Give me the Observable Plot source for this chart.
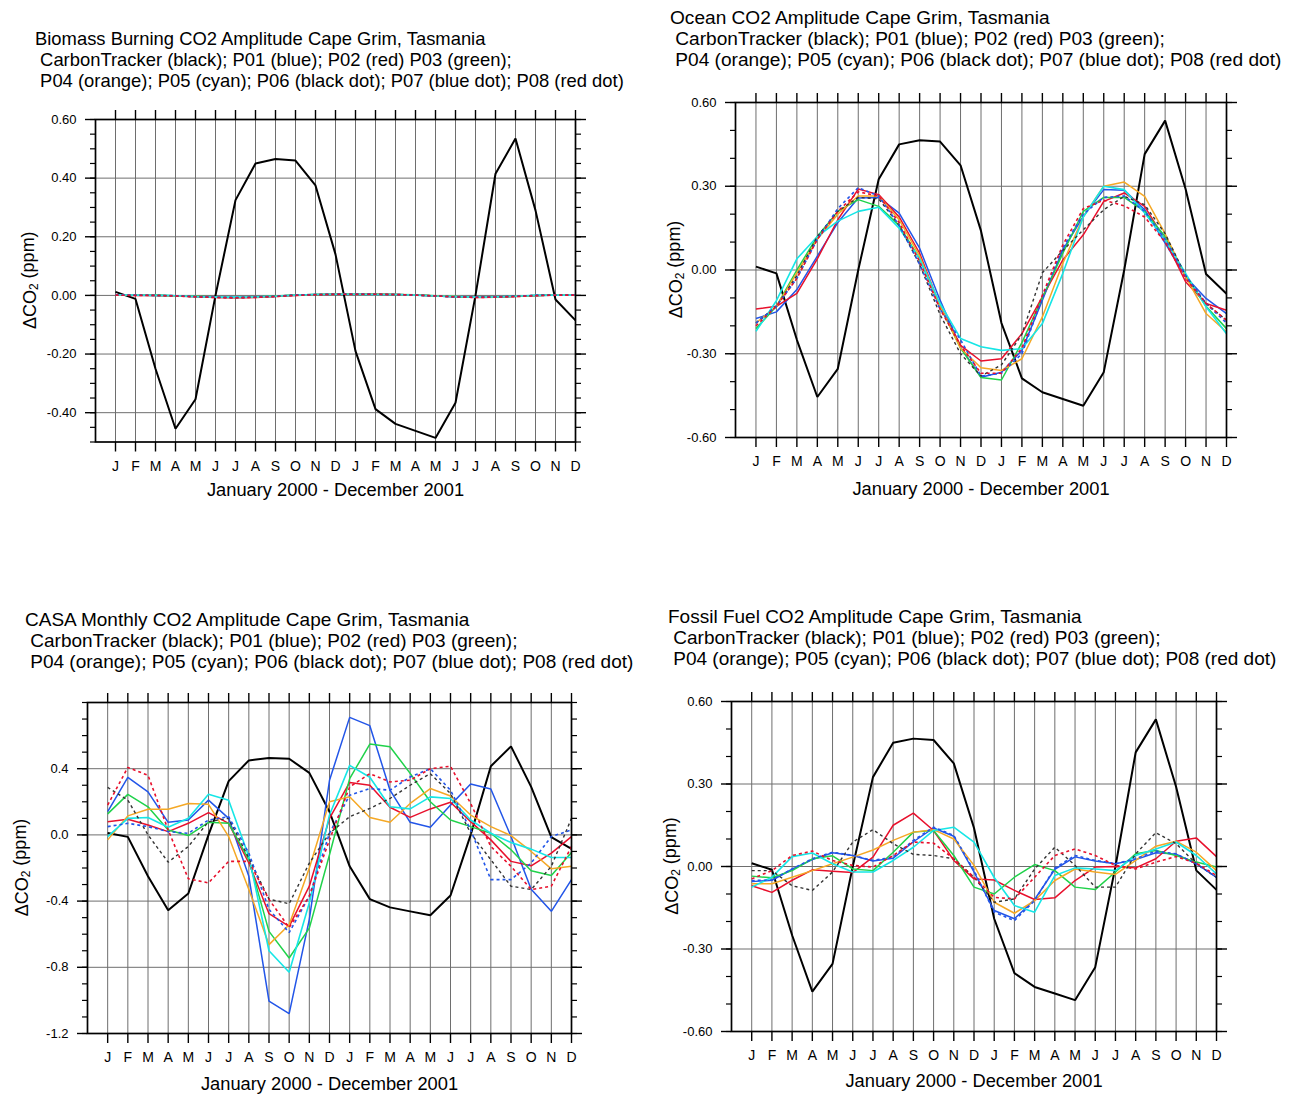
<!DOCTYPE html>
<html>
<head>
<meta charset="utf-8">
<script src="https://cdn.jsdelivr.net/npm/d3@7"></script>
<script src="https://cdn.jsdelivr.net/npm/@observablehq/plot@0.6"></script>
<style>
  html, body { margin: 0; padding: 0; background: #fff; }
  #root { position: relative; width: 1296px; height: 1098px; background: #fff; overflow: hidden;
          font-family: "Liberation Sans", Arial, Helvetica, sans-serif; color: #000; }
  .title { position: absolute; white-space: pre; line-height: 21px; }
  .panel { position: absolute; }
</style>
</head>
<body>
<div id="root"></div>
<script>
// ---------- data ----------
const monthLabels = ["J","F","M","A","M","J","J","A","S","O","N","D"];
const xTitle = "January 2000 - December 2001";

// CarbonTracker (black) — identical in all four panels
const carbonTracker = [0.012, -0.012, -0.25, -0.455, -0.354, 0.0, 0.325, 0.45, 0.465, 0.46, 0.375, 0.14,
                       -0.19, -0.388, -0.438, -0.462, -0.486, -0.366, 0.0, 0.415, 0.535, 0.29, -0.014, -0.085];

// Biomass burning
const biomassP01 = [0.002, 0.001, 0.0, -0.001, -0.004, -0.006, -0.007, -0.006, -0.003, 0.001, 0.003, 0.004, 0.004, 0.004, 0.003, 0.001, -0.002, -0.005, -0.006, -0.005, -0.003, 0.0, 0.001, 0.001];
const biomassP02 = [0.001, 0.0, 0.0, -0.002, -0.005, -0.007, -0.008, -0.007, -0.004, 0.0, 0.002, 0.004, 0.004, 0.004, 0.003, 0.001, -0.002, -0.005, -0.007, -0.006, -0.004, -0.001, 0.001, 0.001];
const biomassP03 = [0.002, 0.001, 0.001, -0.001, -0.003, -0.005, -0.006, -0.005, -0.002, 0.001, 0.003, 0.004, 0.005, 0.004, 0.003, 0.002, -0.001, -0.004, -0.005, -0.005, -0.003, 0.0, 0.001, 0.002];
const biomassP04 = [0.001, 0.001, 0.0, -0.002, -0.004, -0.006, -0.007, -0.006, -0.003, 0.001, 0.003, 0.004, 0.004, 0.004, 0.003, 0.001, -0.002, -0.004, -0.006, -0.005, -0.003, 0.0, 0.001, 0.001];
const biomassP05 = [0.002, 0.001, 0.0, -0.001, -0.004, -0.006, -0.006, -0.005, -0.003, 0.001, 0.003, 0.004, 0.004, 0.003, 0.003, 0.001, -0.002, -0.004, -0.006, -0.005, -0.003, 0.0, 0.001, 0.001];
const biomassP06 = [0.001, 0.0, 0.0, -0.002, -0.004, -0.007, -0.008, -0.006, -0.003, 0.001, 0.003, 0.004, 0.004, 0.004, 0.003, 0.001, -0.002, -0.005, -0.006, -0.005, -0.003, 0.0, 0.001, 0.001];
const biomassP07 = [0.002, 0.001, 0.0, -0.001, -0.004, -0.006, -0.007, -0.006, -0.003, 0.001, 0.003, 0.004, 0.005, 0.004, 0.003, 0.001, -0.002, -0.005, -0.006, -0.005, -0.003, 0.0, 0.001, 0.002];
const biomassP08 = [0.001, 0.0, 0.0, -0.002, -0.005, -0.007, -0.008, -0.007, -0.004, 0.0, 0.002, 0.004, 0.004, 0.004, 0.003, 0.001, -0.002, -0.005, -0.007, -0.006, -0.004, -0.001, 0.001, 0.001];

// Ocean
const oceanP01 = [-0.174, -0.15, -0.07, 0.05, 0.17, 0.258, 0.26, 0.204, 0.078, -0.108, -0.276, -0.384, -0.366, -0.288, -0.108, 0.072, 0.192, 0.288, 0.286, 0.216, 0.096, -0.024, -0.102, -0.156];
const oceanP02 = [-0.14, -0.13, -0.084, 0.04, 0.18, 0.29, 0.27, 0.19, 0.06, -0.13, -0.27, -0.326, -0.318, -0.228, -0.096, 0.036, 0.126, 0.246, 0.276, 0.228, 0.108, -0.042, -0.12, -0.144];
const oceanP03 = [-0.21, -0.13, 0.0, 0.12, 0.21, 0.252, 0.228, 0.16, 0.04, -0.13, -0.28, -0.385, -0.394, -0.26, -0.10, 0.06, 0.21, 0.26, 0.26, 0.21, 0.12, -0.02, -0.13, -0.21];
const oceanP04 = [-0.19, -0.13, -0.01, 0.11, 0.20, 0.265, 0.265, 0.18, 0.05, -0.13, -0.28, -0.35, -0.36, -0.318, -0.168, 0.024, 0.19, 0.30, 0.315, 0.264, 0.13, -0.024, -0.156, -0.222];
const oceanP05 = [-0.22, -0.11, 0.04, 0.12, 0.175, 0.21, 0.225, 0.15, 0.04, -0.12, -0.245, -0.275, -0.288, -0.282, -0.192, -0.012, 0.19, 0.30, 0.288, 0.204, 0.108, -0.012, -0.132, -0.228];
const oceanP06 = [-0.19, -0.13, -0.02, 0.12, 0.21, 0.26, 0.255, 0.16, 0.02, -0.16, -0.30, -0.38, -0.34, -0.23, -0.01, 0.07, 0.144, 0.216, 0.264, 0.234, 0.13, -0.02, -0.12, -0.18];
const oceanP07 = [-0.19, -0.13, -0.03, 0.11, 0.22, 0.295, 0.265, 0.16, 0.02, -0.14, -0.25, -0.38, -0.37, -0.30, -0.10, 0.08, 0.20, 0.26, 0.265, 0.21, 0.11, -0.02, -0.12, -0.19];
const oceanP08 = [-0.20, -0.13, -0.03, 0.11, 0.21, 0.28, 0.265, 0.17, 0.03, -0.14, -0.27, -0.37, -0.37, -0.28, -0.09, 0.09, 0.22, 0.25, 0.23, 0.19, 0.10, -0.03, -0.12, -0.18];

// CASA monthly
const casaP01 = [0.14, 0.348, 0.26, 0.076, 0.09, 0.21, 0.10, -0.25, -1.005, -1.08, -0.51, 0.33, 0.71, 0.66, 0.27, 0.076, 0.046, 0.18, 0.307, 0.277, -0.01, -0.328, -0.462, -0.27];
const casaP02 = [0.08, 0.094, 0.06, 0.02, 0.07, 0.135, 0.07, -0.17, -0.476, -0.553, -0.31, 0.10, 0.317, 0.30, 0.167, 0.106, 0.157, 0.197, 0.08, -0.03, -0.16, -0.187, -0.11, -0.01];
const casaP03 = [0.127, 0.245, 0.17, 0.03, -0.004, 0.076, 0.07, -0.15, -0.583, -0.744, -0.563, -0.12, 0.34, 0.549, 0.533, 0.372, 0.20, 0.09, 0.05, 0.01, -0.09, -0.217, -0.245, -0.107];
const casaP04 = [-0.03, 0.115, 0.155, 0.155, 0.19, 0.185, -0.01, -0.33, -0.663, -0.543, -0.2, 0.2, 0.23, 0.105, 0.076, 0.19, 0.28, 0.235, 0.12, 0.05, -0.004, -0.10, -0.205, -0.19];
const casaP05 = [-0.01, 0.10, 0.105, 0.046, 0.10, 0.245, 0.21, -0.13, -0.70, -0.83, -0.41, 0.12, 0.42, 0.348, 0.17, 0.157, 0.23, 0.22, 0.09, 0.01, -0.046, -0.086, -0.137, -0.137];
const casaP06 = [0.287, 0.21, 0.0, -0.165, -0.07, 0.08, 0.10, -0.14, -0.388, -0.416, -0.17, 0.01, 0.11, 0.16, 0.22, 0.30, 0.37, 0.25, 0.01, -0.15, -0.31, -0.33, -0.19, 0.10];
const casaP07 = [0.05, 0.07, 0.05, 0.02, 0.01, 0.09, 0.11, -0.11, -0.45, -0.59, -0.37, 0.01, 0.24, 0.28, 0.27, 0.35, 0.40, 0.27, 0.03, -0.27, -0.27, -0.17, -0.01, 0.03];
const casaP08 = [0.18, 0.408, 0.36, 0.03, -0.265, -0.29, -0.16, -0.16, -0.39, -0.56, -0.37, -0.03, 0.29, 0.37, 0.32, 0.33, 0.40, 0.415, 0.19, -0.07, -0.19, -0.33, -0.31, -0.07];

// Fossil fuel
const fossilP01 = [-0.055, -0.05, -0.01, 0.025, 0.05, 0.04, 0.02, 0.03, 0.09, 0.14, 0.11, -0.02, -0.16, -0.19, -0.12, -0.01, 0.035, 0.02, 0.01, 0.025, 0.05, 0.045, 0.01, -0.04];
const fossilP02 = [-0.07, -0.094, -0.05, -0.012, -0.017, -0.022, 0.034, 0.15, 0.194, 0.131, 0.022, -0.045, -0.049, -0.087, -0.12, -0.114, -0.051, -0.002, 0.0, -0.005, 0.028, 0.092, 0.104, 0.036];
const fossilP03 = [-0.035, -0.041, -0.015, 0.028, 0.039, -0.009, -0.015, 0.052, 0.125, 0.131, 0.04, -0.075, -0.10, -0.039, 0.007, -0.015, -0.075, -0.084, -0.02, 0.046, 0.058, 0.04, 0.016, -0.002];
const fossilP04 = [-0.063, -0.063, -0.039, -0.015, 0.01, 0.034, 0.06, 0.095, 0.125, 0.134, 0.10, 0.004, -0.13, -0.17, -0.124, -0.051, -0.009, -0.02, -0.029, 0.022, 0.074, 0.092, 0.052, -0.015];
const fossilP05 = [-0.075, -0.039, 0.036, 0.049, 0.01, -0.02, -0.02, 0.022, 0.07, 0.131, 0.143, 0.089, -0.04, -0.142, -0.166, -0.033, -0.005, -0.009, -0.015, 0.04, 0.064, 0.089, 0.04, -0.027];
const fossilP06 = [-0.015, -0.015, -0.07, -0.087, -0.02, 0.089, 0.134, 0.083, 0.044, 0.04, 0.028, -0.039, -0.13, -0.118, -0.009, 0.07, 0.004, -0.075, -0.075, 0.046, 0.123, 0.083, 0.01, -0.039];
const fossilP07 = [-0.051, -0.049, -0.009, 0.028, 0.052, 0.04, 0.022, 0.034, 0.095, 0.143, 0.113, -0.015, -0.166, -0.197, -0.124, -0.005, 0.04, 0.022, 0.01, 0.028, 0.056, 0.046, 0.01, -0.039];
const fossilP08 = [-0.045, -0.015, 0.04, 0.056, 0.022, 0.004, -0.002, 0.04, 0.089, 0.085, 0.028, -0.039, -0.112, -0.118, -0.039, 0.04, 0.064, 0.04, 0.004, -0.009, 0.016, 0.036, 0.012, -0.033];

// y tick values per panel
const biomassTicks = [-0.4, -0.2, 0.0, 0.2, 0.4, 0.6];
const oceanTicks = [-0.6, -0.3, 0.0, 0.3, 0.6];
const casaTicks = [-1.2, -0.8, -0.4, 0.0, 0.4];
const fossilTicks = [-0.6, -0.3, 0.0, 0.3, 0.6];

// ---------- styles ----------
const lineStyles = [
  {stroke: "#000000", width: 2.0, dash: null},   // CarbonTracker
  {stroke: "#2255e8", width: 1.5, dash: null},   // P01 blue
  {stroke: "#e8102c", width: 1.5, dash: null},   // P02 red
  {stroke: "#1fd24a", width: 1.5, dash: null},   // P03 green
  {stroke: "#f5a825", width: 1.5, dash: null},   // P04 orange
  {stroke: "#16e6e6", width: 1.6, dash: null},   // P05 cyan
  {stroke: "#333333", width: 1.4, dash: "3,3"},  // P06 black dot
  {stroke: "#2255e8", width: 1.6, dash: "3,3"},  // P07 blue dot
  {stroke: "#e8102c", width: 1.6, dash: "3,3"}   // P08 red dot
];

const titleL2 = " CarbonTracker (black); P01 (blue); P02 (red) P03 (green);";
const titleL3 = " P04 (orange); P05 (cyan); P06 (black dot); P07 (blue dot); P08 (red dot)";

const panels = [
  {title: "Biomass Burning CO2 Amplitude Cape Grim, Tasmania", tx: 35, ty: 27.5, tsize: 18.4,
   left: 95, right: 575, top: 118.5, bottom: 441, yDomain: [-0.5, 0.6], ticks: biomassTicks, minorStep: 0.05, digits: 2,
   yTitleOff: 65, xTitleDy: 54,
   series: [carbonTracker, biomassP01, biomassP02, biomassP03, biomassP04, biomassP05, biomassP06, biomassP07, biomassP08]},
  {title: "Ocean CO2 Amplitude Cape Grim, Tasmania", tx: 670, ty: 6.5, tsize: 19.1,
   left: 735, right: 1226, top: 102, bottom: 437, yDomain: [-0.6, 0.6], ticks: oceanTicks, minorStep: 0.1, digits: 2,
   yTitleOff: 59, xTitleDy: 57,
   series: [carbonTracker, oceanP01, oceanP02, oceanP03, oceanP04, oceanP05, oceanP06, oceanP07, oceanP08]},
  {title: "CASA Monthly CO2 Amplitude Cape Grim, Tasmania", tx: 25, ty: 608.5, tsize: 19.0,
   left: 87, right: 571, top: 702, bottom: 1033, yDomain: [-1.2, 0.8], ticks: casaTicks, minorStep: 0.1, digits: 1,
   yTitleOff: 65, xTitleDy: 56,
   series: [carbonTracker, casaP01, casaP02, casaP03, casaP04, casaP05, casaP06, casaP07, casaP08]},
  {title: "Fossil Fuel CO2 Amplitude Cape Grim, Tasmania", tx: 668, ty: 605.5, tsize: 19.0,
   left: 731, right: 1216, top: 701, bottom: 1031, yDomain: [-0.6, 0.6], ticks: fossilTicks, minorStep: 0.1, digits: 2,
   yTitleOff: 59, xTitleDy: 55,
   series: [carbonTracker, fossilP01, fossilP02, fossilP03, fossilP04, fossilP05, fossilP06, fossilP07, fossilP08]}
];

// ---------- drawing ----------
const root = document.getElementById("root");
const monthIdx = d3.range(24);
const FONT = "'Liberation Sans', Arial, Helvetica, sans-serif";

function minorTicks(domain, step) {
  const n0 = Math.round(domain[0] / step), n1 = Math.round(domain[1] / step);
  return d3.range(n0, n1 + 1).map(k => +(k * step).toFixed(4));
}

panels.forEach(cfg => {
  // title
  const t = document.createElement("div");
  t.className = "title";
  t.style.left = cfg.tx + "px";
  t.style.top = cfg.ty + "px";
  t.style.fontSize = cfg.tsize + "px";
  t.textContent = cfg.title + "\n" + titleL2 + "\n" + titleL3;
  root.appendChild(t);

  const mL = 80, mR = 22, mT = 16, mB = 75;
  const W = cfg.right - cfg.left, H = cfg.bottom - cfg.top;
  const fmt = v => (Math.abs(v) < 1e-9 ? 0 : v).toFixed(cfg.digits);
  const minors = minorTicks(cfg.yDomain, cfg.minorStep);
  const innerMajors = cfg.ticks.filter(v => v > cfg.yDomain[0] + 1e-9 && v < cfg.yDomain[1] - 1e-9);

  const lineMarks = cfg.series.map((arr, s) => {
    const st = lineStyles[s];
    const rows = arr.map((v, i) => ({month: i, value: v}));
    return Plot.line(rows, {x: "month", y: "value", stroke: st.stroke, strokeWidth: st.width,
      strokeDasharray: st.dash, strokeLinejoin: "miter", strokeLinecap: "butt"});
  });

  const chart = Plot.plot({
    width: W + mL + mR, height: H + mT + mB,
    marginLeft: mL, marginRight: mR, marginTop: mT, marginBottom: mB,
    x: {domain: [-1, 23]},
    y: {domain: cfg.yDomain},
    style: {fontFamily: FONT, fontSize: "13px", color: "#000", background: "transparent", overflow: "visible"},
    marks: [
      Plot.gridX(monthIdx.slice(0, 23), {stroke: "#6e6e6e", strokeOpacity: 1, strokeWidth: 1}),
      Plot.gridY(innerMajors, {stroke: "#6e6e6e", strokeOpacity: 1, strokeWidth: 1}),
      ...lineMarks,
      Plot.axisX(monthIdx, {anchor: "bottom", tickSize: 10, tickPadding: 9, strokeWidth: 1.4,
        tickFormat: i => monthLabels[i % 12], label: null, fontSize: 14}),
      Plot.axisX(monthIdx, {anchor: "top", tickSize: 10, strokeWidth: 1.4, tickFormat: () => "", label: null}),
      Plot.axisY(minors, {anchor: "left", tickSize: 5, strokeWidth: 1.2, tickFormat: () => "", label: null}),
      Plot.axisY(minors, {anchor: "right", tickSize: 5, strokeWidth: 1.2, tickFormat: () => "", label: null}),
      Plot.axisY(cfg.ticks, {anchor: "left", tickSize: 10, tickPadding: 9, strokeWidth: 1.4,
        tickFormat: fmt, label: null, fontSize: 13}),
      Plot.axisY(cfg.ticks, {anchor: "right", tickSize: 10, strokeWidth: 1.4, tickFormat: () => "", label: null}),
      Plot.frame({stroke: "#000", strokeWidth: 1.7}),
      Plot.text([xTitle], {text: d => d, frameAnchor: "bottom", dy: cfg.xTitleDy, fontSize: 18.3})
    ]
  });

  chart.style.position = "absolute";
  chart.style.left = (cfg.left - mL) + "px";
  chart.style.top = (cfg.top - mT) + "px";
  chart.classList.add("panel");

  // y-axis title with subscript
  const svg = d3.select(chart);
  const yt = svg.append("text")
    .attr("transform", `translate(${mL - cfg.yTitleOff},${mT + H / 2}) rotate(-90)`)
    .attr("text-anchor", "middle")
    .attr("dominant-baseline", "central")
    .style("font-family", FONT)
    .style("font-size", "18px")
    .attr("fill", "#000");
  yt.append("tspan").text("\u0394CO");
  yt.append("tspan").text("2").attr("dy", "0.3em").style("font-size", "12px");
  yt.append("tspan").text(" (ppm)").attr("dy", "-0.3em");

  root.appendChild(chart);
});
</script>
</body>
</html>
